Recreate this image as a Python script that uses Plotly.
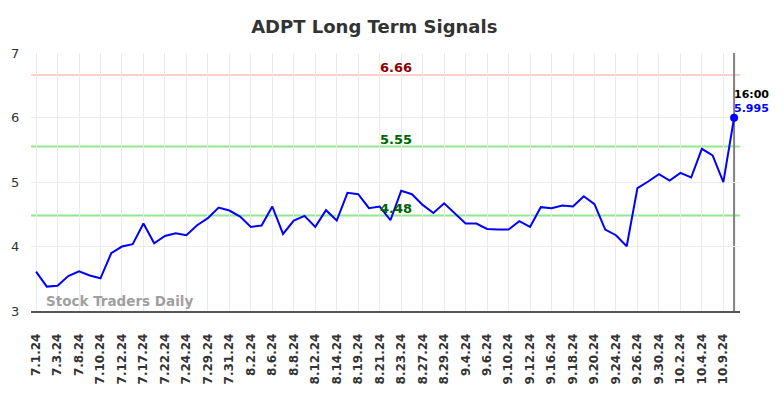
import plotly.graph_objects as go

dates = ["7.1.24","7.2.24","7.3.24","7.5.24","7.8.24","7.9.24","7.10.24","7.11.24","7.12.24","7.16.24",
         "7.17.24","7.18.24","7.22.24","7.23.24","7.24.24","7.25.24","7.29.24","7.30.24","7.31.24","8.1.24",
         "8.2.24","8.5.24","8.6.24","8.7.24","8.8.24","8.9.24","8.12.24","8.13.24","8.14.24","8.16.24",
         "8.19.24","8.20.24","8.21.24","8.22.24","8.23.24","8.26.24","8.27.24","8.28.24","8.29.24","8.30.24",
         "9.4.24","9.5.24","9.6.24","9.9.24","9.10.24","9.11.24","9.12.24","9.13.24","9.16.24","9.17.24",
         "9.18.24","9.19.24","9.20.24","9.23.24","9.24.24","9.25.24","9.26.24","9.27.24","9.30.24","10.1.24",
         "10.2.24","10.3.24","10.4.24","10.7.24","10.9.24","10.10.24"]

values = [3.61, 3.378, 3.39, 3.543, 3.616, 3.55, 3.507, 3.895, 3.999, 4.035,
          4.356, 4.05, 4.164, 4.206, 4.175, 4.33, 4.44, 4.604, 4.558, 4.464,
          4.304, 4.325, 4.62, 4.195, 4.402, 4.475, 4.304, 4.563, 4.402, 4.832,
          4.811, 4.594, 4.62, 4.407, 4.863, 4.811, 4.645, 4.52, 4.67, 4.506,
          4.356, 4.356, 4.273, 4.263, 4.263, 4.392, 4.304, 4.61, 4.594, 4.635,
          4.62, 4.78, 4.656, 4.263, 4.175, 4.004, 4.904, 5.008, 5.122, 5.023,
          5.142, 5.07, 5.515, 5.411, 4.997, 5.995]

tick_labels = ["7.1.24","7.3.24","7.8.24","7.10.24","7.12.24","7.17.24","7.22.24","7.24.24","7.29.24",
               "7.31.24","8.2.24","8.6.24","8.8.24","8.12.24","8.14.24","8.19.24","8.21.24","8.23.24",
               "8.27.24","8.29.24","9.4.24","9.6.24","9.10.24","9.12.24","9.16.24","9.18.24","9.20.24",
               "9.24.24","9.26.24","9.30.24","10.2.24","10.4.24","10.9.24"]

signal_levels = [6.66, 5.55, 4.48]
signal_labels = ["6.66", "5.55", "4.48"]
signal_line_colors = ["#ffcccc", "#90e890", "#90e890"]
signal_text_colors = ["#8b0000", "#006400", "#006400"]

last_time = "16:00"
last_value_label = "5.995"

x = list(range(len(values)))
tickvals = [i for i, d in enumerate(dates) if d in tick_labels]

fig = go.Figure()
fig.add_trace(go.Scatter(x=x, y=values, mode="lines", line=dict(color="#0000ff", width=2),
                         hoverinfo="text", text=dates, showlegend=False))
fig.add_trace(go.Scatter(x=[x[-1]], y=[values[-1]], mode="markers",
                         marker=dict(color="#0000ff", size=8), showlegend=False))

label_x = 33.5
for lvl, lab, lc, tc in zip(signal_levels, signal_labels, signal_line_colors, signal_text_colors):
    fig.add_shape(type="line", xref="paper", x0=0, x1=1, y0=lvl, y1=lvl,
                  line=dict(color=lc, width=2), layer="below")
    fig.add_annotation(x=label_x, y=lvl, text=f"<b>{lab}</b>", showarrow=False,
                       yanchor="bottom", yshift=-2, font=dict(color=tc, size=13, family="DejaVu Sans"))

fig.add_shape(type="line", x0=x[-1], x1=x[-1], yref="paper", y0=0, y1=1,
              line=dict(color="#808080", width=2), layer="below")
fig.add_annotation(x=x[-1], y=values[-1], text=f"<b>{last_time}</b>", showarrow=False,
                   xanchor="left", yanchor="bottom", xshift=-2, yshift=15,
                   font=dict(color="#000000", size=11, family="DejaVu Sans"))
fig.add_annotation(x=x[-1], y=values[-1], text=f"<b>{last_value_label}</b>", showarrow=False,
                   xanchor="left", yanchor="bottom", xshift=-2, yshift=1,
                   font=dict(color="#0000ff", size=11, family="DejaVu Sans"))

fig.add_annotation(xref="paper", yref="paper", x=0.019, y=0.0, text="<b>Stock Traders Daily</b>",
                   showarrow=False, xanchor="left", yanchor="bottom", yshift=0,
                   font=dict(color="#a0a0a0", size=13.5, family="DejaVu Sans"))

# page body has an 8px default margin, so the figure is sized/offset to compensate
fig.update_layout(
    width=776, height=390,
    margin=dict(l=23, r=44, t=45, b=87),
    paper_bgcolor="white", plot_bgcolor="white",
    title=dict(text="<b>ADPT Long Term Signals</b>", x=0.472, xanchor="center",
               yref="container", y=0.951, yanchor="middle",
               font=dict(size=18, color="#333333", family="DejaVu Sans")),
    font=dict(family="DejaVu Sans", color="#333333"),
)
fig.update_xaxes(range=[-0.47, 65.55], tickvals=tickvals, ticktext=[f"<b>{t}</b>" for t in tick_labels],
                 tickangle=-90, automargin=False,
                 showgrid=True, gridcolor="#ebebeb", gridwidth=1,
                 showline=True, linecolor="#555555", linewidth=1.5,
                 tickfont=dict(size=12, color="#333333", family="DejaVu Sans"),
                 ticks="outside", ticklen=16, tickcolor="rgba(0,0,0,0)", zeroline=False)
fig.update_yaxes(range=[3, 7], tickvals=[3, 4, 5, 6, 7], showgrid=True, gridcolor="#ebebeb",
                 gridwidth=1, zeroline=False, showline=False, automargin=False,
                 tickfont=dict(size=13, color="#333333", family="DejaVu Sans"),
                 ticks="outside", ticklen=8, tickcolor="rgba(0,0,0,0)")

fig.write_html("out.html")
